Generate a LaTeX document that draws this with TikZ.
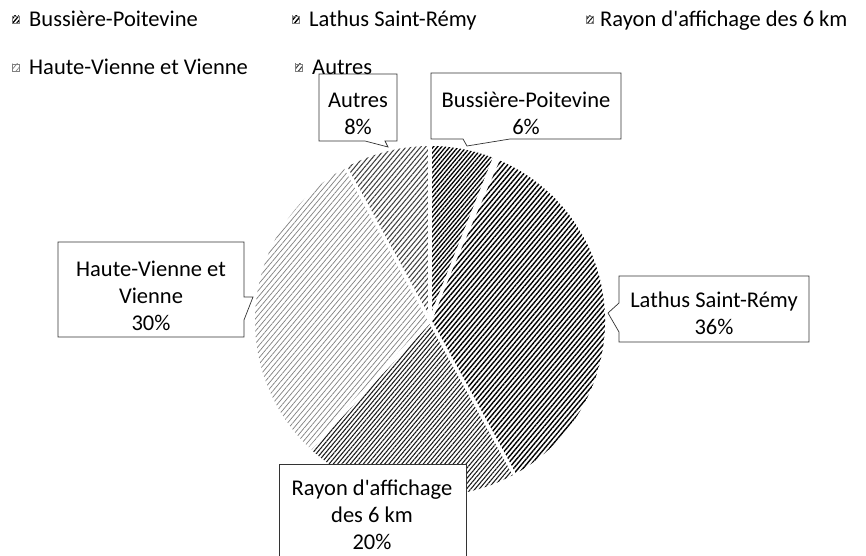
\documentclass[tikz,border=0pt]{standalone}
\usepackage{fontspec}
\setmainfont{Carlito}
\usetikzlibrary{patterns.meta}

\tikzset{
  lbl/.style={align=center, inner sep=0pt, font=\fontsize{19.2}{23}\selectfont},
  leg/.style={anchor=base west, inner sep=0pt, font=\fontsize{19.2}{23}\selectfont},
  callout/.style={draw=black!80, line width=0.6pt, fill=white},
  gap/.style={draw=white, line width=3pt},
  mark box/.style={draw=black!50, line width=0.3pt},
  pbuss/.style={pattern={Lines[angle=50,distance=2.7pt,line width=1.1pt]}, pattern color=black},
  plathus/.style={pattern={Lines[angle=50,distance=3.1pt,line width=1.2pt]}, pattern color=black},
  prayon/.style={pattern={Lines[angle=50,distance=2.8pt,line width=0.9pt]}, pattern color=black!90},
  phaute/.style={pattern={Lines[angle=50,distance=3.4pt,line width=0.6pt]}, pattern color=black!50},
  pautres/.style={pattern={Lines[angle=50,distance=3.2pt,line width=0.9pt]}, pattern color=black!75},
}

\begin{document}
\begin{tikzpicture}[x=0.03cm,y=0.03cm]
\fill[white] (0,0) rectangle (866,555);
\useasboundingbox (0,0) rectangle (866,555);

% pie
\coordinate (C) at (430,234);
\fill[pbuss] (C) -- ++(90:175) arc[start angle=90, end angle=68.4, radius=175] -- cycle;
\fill[plathus] (C) -- ++(66.5:175) arc[start angle=66.5, end angle=-61.2, radius=175] -- cycle;
\fill[prayon] (C) -- ++(-61.2:175) arc[start angle=-61.2, end angle=-133.2, radius=175] -- cycle;
\fill[phaute] (C) -- ++(-133.2:175) arc[start angle=-133.2, end angle=-241.2, radius=175] -- cycle;
\fill[pautres] (C) -- ++(118.8:175) arc[start angle=118.8, end angle=90, radius=175] -- cycle;

% white gaps between slices
\draw[gap] (C) -- ++(90:178);
\draw[gap] (C) -- ++(68.4:178);
\draw[gap] (C) -- ++(-61.2:178);
\draw[gap] (C) -- ++(-133.2:178);
\draw[gap] (C) -- ++(118.8:178);

% callouts
\draw[callout] (319,481) -- (397,481) -- (397,414) -- (385,414) -- (388,408) -- (365,414) -- (319,414) -- cycle;
\draw[callout] (431,482) -- (621,482) -- (621,416) -- (510,416) -- (467,409) -- (463,416) -- (431,416) -- cycle;
\draw[callout] (58,313) -- (244,313) -- (244,258) -- (253,258) -- (244,235) -- (244,218) -- (58,218) -- cycle;
\draw[callout] (619,279) -- (809,279) -- (809,213) -- (619,213) -- (619,223) -- (608,242) -- (619,252) -- cycle;
\fill[white] (279,-5) rectangle (466,91);
\draw[callout] (279,-5) -- (279,91) -- (466,91) -- (466,-5);

\node[lbl] (autres) at (358,441.5) {Autres\\8\%};
\node[lbl] (buss) at (526,442) {Bussière-Poitevine\\6\%};
\node[lbl] (haute) at (151,259) {Haute-Vienne et\\Vienne\\30\%};
\node[lbl] (lathus) at (714,242) {Lathus Saint-Rémy\\36\%};
\node[lbl] (rayon) at (372,40) {Rayon d\textquotesingle affichage\\des 6 km\\20\%};

% legend
\filldraw[pbuss, mark box] (12,532) rectangle (19,539);
\filldraw[plathus, mark box] (292,532) rectangle (299,539);
\filldraw[prayon, mark box] (586,532) rectangle (593,539);
\filldraw[phaute, mark box] (12,484) rectangle (19,491);
\filldraw[pautres, mark box] (295,484) rectangle (302,491);

\node[leg] (leg buss) at (29,528) {Bussière-Poitevine};
\node[leg] (leg lathus) at (309,528) {Lathus Saint-Rémy};
\node[leg] (leg rayon) at (600,528) {Rayon d\textquotesingle affichage des 6 km};
\node[leg] (leg haute) at (29,480) {Haute-Vienne et Vienne};
\node[leg] (leg autres) at (312,480) {Autres};

\end{tikzpicture}
\end{document}
